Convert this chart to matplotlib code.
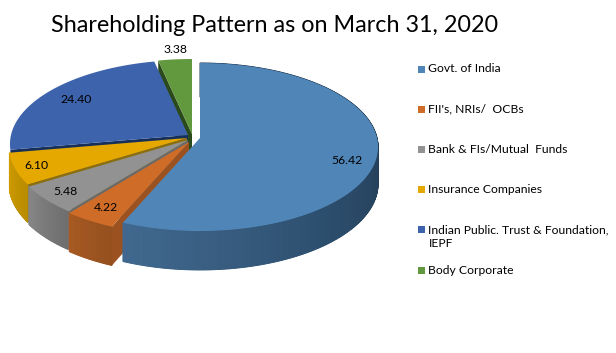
import numpy as np
import matplotlib
matplotlib.use('Agg')
import matplotlib.pyplot as plt
from matplotlib.colors import LinearSegmentedColormap
from matplotlib.patches import Polygon, Rectangle

# Datos
categories = ['Govt. of India', "FII's, NRIs/  OCBs", 'Bank & FIs/Mutual  Funds',
              'Insurance Companies', 'Indian Public. Trust & Foundation,\nIEPF', 'Body Corporate']
values = [56.42, 4.22, 5.48, 6.10, 24.40, 3.38]
title = 'Shareholding Pattern as on March 31, 2020'

# Estilo
top_colors = ['#5085B8', '#CF6C28', '#929292', '#E5A800', '#3C63AC', '#62993E']
side_colors = [['#1F3A55', '#1F3449', '#2C4D6C', '#41698F'],
               ['#94501F', '#A85A22'], ['#6E6E6E', '#868686'], ['#B98C00', '#CE9A00']]
face_colors = ['#1F3449', '#9C5220', '#6A6A6A', '#8A6E10', '#17305A', '#2B4A1B']
apex_x = [200, 189, 188, 187, 188, 192]
apex_y = [138, 142, 140, 138, 135, 134]
label_r = [0.85, 0.85, 0.87, 0.88, 0.80, 1.15]
label_da = [6.5, 0, 0, 0, 0, 1]
A, B, K = 177, 83, 0.107


# Proyeccion del disco con perspectiva (angulo en grados desde arriba, horario)
def project(deg, r, i):
    t = np.radians(deg)
    u, v = r * np.sin(t), r * np.cos(t)
    w = 1 + K * v
    return apex_x[i] + A * u / w, apex_y[i] - B * v / w


def depth(deg, r):
    return 36.5 - 2.5 * r * np.cos(np.radians(deg))


fig = plt.figure(figsize=(6.16, 3.53), dpi=100)
ax = fig.add_axes([0, 0, 1, 1])
ax.set_xlim(0, 616)
ax.set_ylim(353, 0)
ax.axis('off')

edges = np.concatenate([[0], np.cumsum(values)]) / np.sum(values) * 360

# De atras hacia adelante
for i in [5, 4, 3, 2, 1, 0]:
    a0, a1 = edges[i], edges[i + 1]
    angs = np.linspace(a0, a1, max(int(a1 - a0) * 2, 8))
    x, y = project(angs, 1, i)
    d = depth(angs, 1)

    # cara lateral visible junto al corte inicial
    cx, cy = project(a0, 1, i)
    ax.add_patch(Polygon([(cx, cy), (cx, cy + depth(a0, 1)), (apex_x[i], apex_y[i] + 37),
                          (apex_x[i], apex_y[i])], closed=True, fc=face_colors[i], ec='none'))

    # borde exterior con degradado (azul y verde quedan detras)
    if i < 4:
        cmap = LinearSegmentedColormap.from_list('s', side_colors[i])
        back = list(zip(x, y)) + list(zip(x[::-1], (y + d)[::-1]))
        ax.add_patch(Polygon(back, closed=True, fc=cmap(0.5), ec='none'))
        for j in range(len(angs) - 1):
            quad = [(x[j], y[j]), (x[j + 1], y[j + 1]), (x[j + 1], y[j + 1] + d[j + 1]), (x[j], y[j] + d[j])]
            c = cmap(j / (len(angs) - 2))
            ax.add_patch(Polygon(quad, closed=True, fc=c, ec=c, lw=0.7))

    # cara superior
    pts = [(apex_x[i], apex_y[i])] + list(zip(x, y))
    ax.add_patch(Polygon(pts, closed=True, fc=top_colors[i], ec='none'))

# Etiquetas
for i, val in enumerate(values):
    mid = (edges[i] + edges[i + 1]) / 2 + label_da[i]
    lx, ly = project(mid, label_r[i], i)
    ax.text(lx, ly, f'{val:.2f}', ha='center', va='center', fontsize=8.8, family='Lato', color='black')

ax.text(275, 26, title, ha='center', va='center', fontsize=16.8, family='Lato', color='black')

# Leyenda
for i, cat in enumerate(categories):
    ly = 69 + 40.2 * i
    ax.add_patch(Rectangle((418, ly - 3.5), 7, 7, fc=top_colors[i], ec='none'))
    ax.text(428.5, ly - 5.5, cat, ha='left', va='top', fontsize=8.7, family='Lato',
            color='black', linespacing=1.35)

plt.savefig('out.png', dpi=100)
